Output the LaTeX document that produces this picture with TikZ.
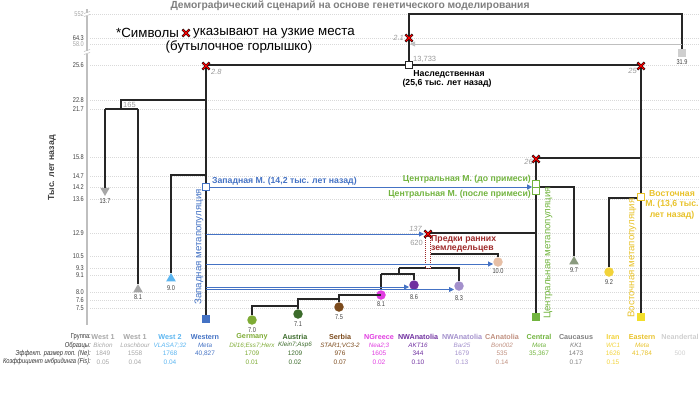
\documentclass[tikz,border=0pt]{standalone}
\usepackage{fontspec}
\setmainfont{Liberation Sans}
\newfontfamily\condfont[FakeStretch=0.8]{Liberation Sans}
\usetikzlibrary{arrows.meta,calc,shapes.geometric}
\definecolor{titlegray}{HTML}{7F7F7F}
\definecolor{gridc}{HTML}{D9D9D9}
\definecolor{axisc}{HTML}{BFBFBF}
\definecolor{tickc}{HTML}{404040}
\definecolor{ltick}{HTML}{A6A6A6}
\definecolor{numgray}{HTML}{9A9A9A}
\definecolor{westblue}{HTML}{4472C4}
\definecolor{west2blue}{HTML}{5BB5F0}
\definecolor{westgray}{HTML}{A6A6A6}
\definecolor{germanyc}{HTML}{7EAB35}
\definecolor{austriac}{HTML}{3C6B2B}
\definecolor{serbiac}{HTML}{7B4A1C}
\definecolor{ngreecec}{HTML}{E03CE0}
\definecolor{nwanac}{HTML}{7030A0}
\definecolor{nwanbc}{HTML}{A390CC}
\definecolor{canac}{HTML}{E6BFA6}
\definecolor{canatext}{HTML}{C09080}
\definecolor{centralc}{HTML}{72B43F}
\definecolor{caucc}{HTML}{8A9A7E}
\definecolor{cauctext}{HTML}{7F7F7F}
\definecolor{iranc}{HTML}{F2D33A}
\definecolor{eastc}{HTML}{F2DE2A}
\definecolor{easttext}{HTML}{E8C22A}
\definecolor{neandc}{HTML}{CFCFCF}
\definecolor{farmerc}{HTML}{9E2A2A}
\definecolor{treec}{HTML}{262626}
\begin{document}
\begin{tikzpicture}[x=1pt,y=-1pt,
  tree/.style={draw=treec, line width=1.1pt},
  gridl/.style={draw=gridc, line width=0.5pt, dash pattern=on 1pt off 1pt},
  flow/.style={draw=westblue, line width=0.9pt, -{Triangle[length=5pt,width=5pt]}},
  tickl/.style={anchor=east, inner sep=0pt, font=\condfont\fontsize{7}{8}\selectfont},
  vall/.style={inner sep=0pt, font=\condfont\fontsize{7}{8}\selectfont, text=tickc},
  sizel/.style={inner sep=0pt, font=\itshape\fontsize{7.5}{8.5}\selectfont, text=numgray},
  mcirc/.style={circle, minimum size=9.5pt, inner sep=0pt},
  mtri/.style={regular polygon, regular polygon sides=3, minimum size=11pt, inner sep=0pt},
  msq/.style={rectangle, minimum size=8pt, inner sep=0pt},
  osq/.style={rectangle, minimum size=7pt, inner sep=0pt, draw, fill=white, line width=0.7pt},
  lab/.style={inner sep=0pt, font=\bfseries\fontsize{8.7}{9.8}\selectfont},
  rotl/.style={inner sep=0pt, rotate=90, font=\fontsize{9.7}{11}\selectfont},
  grp/.style={inner sep=0pt, font=\bfseries\fontsize{7.2}{8}\selectfont},
  smp/.style={inner sep=0pt, font=\itshape\fontsize{6.3}{7.5}\selectfont},
  tv/.style={inner sep=0pt, font=\fontsize{6.5}{7.5}\selectfont},
  rowl/.style={anchor=east, inner sep=0pt, font=\condfont\itshape\fontsize{7.2}{8}\selectfont, text=black!80},
  bneck/.pic={\draw[black, line width=2.3pt] (-3.6,-3.6)--(3.6,3.6) (-3.6,3.6)--(3.6,-3.6);
              \draw[red, line width=1.3pt] (-3.2,-3.2)--(3.2,3.2) (-3.2,3.2)--(3.2,-3.2);}
]
\useasboundingbox (0,0) rectangle (700,394);
% title
\node[inner sep=0pt, font=\bfseries\fontsize{10.3}{11}\selectfont, text=titlegray] (title) at (350,6) {Демографический сценарий на основе генетического моделирования};
% grid and ticks
\foreach \v/\yy/\cc in {552/14/ltick, 64.3/38/tickc, 58.0/44/ltick, 25.6/65/tickc, 22.8/100/tickc, 21.7/109/tickc, 15.8/157/tickc, 14.7/176/tickc, 14.2/187/tickc, 13.6/199/tickc, 12.9/233/tickc, 10.5/256/tickc, 9.3/268/tickc, 9.1/275/tickc, 8.0/292/tickc, 7.6/300/tickc, 7.5/308/tickc}{
  \coordinate (gl\yy) at (90,\yy);
  \coordinate (gr\yy) at (700,\yy);
  \draw[gridl] (gl\yy) -- (gr\yy);
  \node[tickl, text=\cc] (t\yy) at (84,\yy) {\v};
}
% axis
\coordinate (axt) at (87,9);
\coordinate (axb) at (87,325);
\draw[axisc, line width=1.6pt] (axt) -- (axb);
\foreach \yy in {14,52}{
  \coordinate (bk\yy) at (87,\yy);
  \fill[white] ($(bk\yy)+(-3,-1.5)$) rectangle ($(bk\yy)+(3,1.5)$);
  \draw[axisc, line width=0.6pt] ($(bk\yy)+(-3,-0.5)$) -- ($(bk\yy)+(3,-2.5)$)
                                 ($(bk\yy)+(-3,2.5)$) -- ($(bk\yy)+(3,0.5)$);
}
\node[rotate=90, inner sep=0pt, font=\bfseries\fontsize{8.8}{10}\selectfont, text=tickc] (ytitle) at (52,168) {Тыс. лет назад};
% annotation
\node[anchor=west, inner sep=0pt, font=\fontsize{13.3}{15}\selectfont] (ann1) at (116,33) {*Символы};
\pic at (186,33) {bneck};
\node[anchor=west, inner sep=0pt, font=\fontsize{13.3}{15}\selectfont] (ann2) at (193,33) {указывают на узкие места};
\node[inner sep=0pt, font=\fontsize{13.3}{15}\selectfont] (ann3) at (239,47) {(бутылочное горлышко)};
% markers
\node[mtri, shape border rotate=180, fill=westgray] (m137) at (105,190.5) {};
\node[mtri, fill=westgray] (m81w) at (138,289.5) {};
\node[mtri, fill=west2blue] (m90) at (171,278.5) {};
\node[msq, fill=westblue] (mwest) at (206,319) {};
\node[mcirc, fill=germanyc] (mger) at (252,320) {};
\node[mcirc, fill=austriac] (maus) at (298,314) {};
\node[mcirc, fill=serbiac] (mser) at (339,307) {};
\node[mcirc, fill=ngreecec] (mngr) at (381,295) {};
\node[mcirc, fill=nwanac] (mnwa) at (414,285) {};
\node[mcirc, fill=nwanbc] (mnwb) at (459,286) {};
\node[mcirc, fill=canac] (mcan) at (498,262) {};
\node[msq, fill=centralc] (mcen) at (536,317) {};
\node[mtri, fill=caucc] (mcau) at (574,261.5) {};
\node[mcirc, fill=iranc] (mira) at (609,272) {};
\node[msq, fill=eastc] (meas) at (641,317) {};
\node[msq, fill=neandc] (mnea) at (682,53) {};
% tree coordinates
\coordinate (tl) at (409,14);
\coordinate (tr) at (682,14);
\coordinate (xtop) at (409,38);
\coordinate (wx) at (206,65);
\coordinate (ex) at (641,65);
\coordinate (w100) at (206,100);
\coordinate (b121a) at (121,100);
\coordinate (b121b) at (121,109);
\coordinate (b105) at (105,109);
\coordinate (b138) at (138,109);
\coordinate (w175) at (206,175);
\coordinate (b171) at (171,175);
\coordinate (e198) at (641,198);
\coordinate (b609) at (609,198);
\coordinate (e158) at (641,158);
\coordinate (cx) at (536,158);
\coordinate (c187) at (536,187);
\coordinate (b574) at (574,187);
\coordinate (c233) at (536,233);
\coordinate (fx) at (428,233);
\coordinate (f254) at (428,254);
\coordinate (b498) at (498,254);
\coordinate (f268) at (428,268);
\coordinate (b399) at (399,268);
\coordinate (b459) at (459,268);
\coordinate (b399b) at (399,274);
\coordinate (b381) at (381,274);
\coordinate (b414) at (414,274);
\coordinate (n295) at (381,295);
\coordinate (b339) at (339,295);
\coordinate (s299) at (339,299);
\coordinate (b298) at (298,299);
\coordinate (a306) at (298,306);
\coordinate (b252) at (252,306);
% tree lines
\draw[tree] (xtop) -- (tl) -- (tr) -- (mnea);
\draw[tree] (xtop) -- (409,65);
\draw[tree] (wx) -- (ex);
\draw[tree] (wx) -- (mwest);
\draw[tree] (ex) -- (meas);
\draw[tree] (w100) -- (b121a) -- (b121b);
\draw[tree] (b105) -- (b138);
\draw[tree] (b105) -- (m137);
\draw[tree] (b138) -- (m81w);
\draw[tree] (w175) -- (b171) -- (m90);
\draw[tree] (e198) -- (b609) -- (mira);
\draw[tree] (e158) -- (cx) -- (mcen);
\draw[tree] (c187) -- (b574) -- (mcau);
\draw[tree] (c233) -- (fx);
\draw[tree] (f254) -- (b498) -- (mcan);
\draw[tree] (b399) -- (b459) -- (mnwb);
\draw[tree] (b399) -- (b399b);
\draw[tree] (b381) -- (b414) -- (mnwa);
\draw[tree] (b381) -- (mngr);
\draw[tree] (n295) -- (b339) -- (mser);
\draw[tree] (s299) -- (b298) -- (maus);
\draw[tree] (a306) -- (b252) -- (mger);
% farmer bar
\draw[tree] (fx) -- (f268);
\node[draw=farmerc, fill=white, dash pattern=on 1.2pt off 0.8pt, line width=0.8pt, minimum width=5pt, minimum height=32pt, inner sep=0pt] (fbar) at (428,252) {};
% neanderthal flow
\coordinate (nf1) at (682,44);
\coordinate (nf2) at (410,44);
\draw[draw=neandc!80!gray, line width=0.9pt, -{Triangle[length=5pt,width=5pt]}] (nf1) -- (nf2);
% metapopulation squares
\node[osq, draw=treec] (anc) at (409,65) {};
\node[osq, draw=westblue] (wm) at (206,187) {};
\node[osq, draw=centralc, minimum height=7pt] (cmA) at (536,183.5) {};
\node[osq, draw=centralc, minimum height=7pt] (cmB) at (536,190.5) {};
\node[osq, draw=easttext] (em) at (641,197) {};
% blue flows
\coordinate (f1s) at (206,234);
\coordinate (f1e) at (424,234);
\coordinate (f2s) at (206,264);
\coordinate (f3s) at (206,287);
\coordinate (f3e) at (409,287);
\coordinate (f4s) at (206,289.5);
\coordinate (f4e) at (454,289.5);
\draw[flow] (wm.east) -- (wm.east -| cmA.west);
\draw[flow] (f1s) -- (f1e);
\draw[flow] (f2s) -- (f2s -| mcan.west);
\draw[flow] (f3s) -- (f3e);
\draw[flow] (f4s) -- (f4e);
% bottleneck marks
\pic at (409,38) {bneck};
\pic at (206,66) {bneck};
\pic at (641,66) {bneck};
\pic at (536,159) {bneck};
\pic at (428,234) {bneck};
% size labels
\node[sizel, anchor=east] (l21) at (404,38) {2.1};
\node[sizel, anchor=west] (l28) at (211,72) {2.8};
\node[sizel, anchor=east] (l25) at (637,71) {25};
\node[sizel, anchor=east] (l26) at (533,162) {26};
\node[sizel, anchor=east] (l137) at (422,229) {137};
\node[sizel, anchor=east, font=\fontsize{7.5}{8.5}\selectfont] (l620) at (423,243) {620};
\node[sizel, anchor=west, font=\fontsize{7.5}{8.5}\selectfont] (l13733) at (413,59) {13,733};
\node[sizel, anchor=west, font=\fontsize{7.5}{8.5}\selectfont] (l165) at (123,105) {165};
% marker values
\node[vall] (v137) at (105,201) {13.7};
\node[vall] (v81w) at (138,297) {8.1};
\node[vall] (v90) at (171,288) {9.0};
\node[vall] (v70) at (252,330) {7.0};
\node[vall] (v71) at (298,324) {7.1};
\node[vall] (v75) at (339,317) {7.5};
\node[vall] (v81) at (381,304) {8.1};
\node[vall] (v86) at (414,297) {8.6};
\node[vall] (v83) at (459,298) {8.3};
\node[vall] (v100) at (498,271) {10.0};
\node[vall] (v97) at (574,270) {9.7};
\node[vall] (v92) at (609,282) {9.2};
\node[vall] (v319) at (682,62) {31.9};
% main labels
\node[lab, text=black] (her1) at (449,74) {Наследственная};
\node[lab, text=black] (her2) at (447,83.5) {(25,6 тыс. лет назад)};
\node[lab, text=westblue, anchor=west] (wml) at (212,181) {Западная М. (14,2 тыс. лет назад)};
\node[lab, text=centralc, anchor=east] (cml1) at (531,179) {Центральная М. (до примеси)};
\node[lab, text=centralc, anchor=east] (cml2) at (531,194) {Центральная М. (после примеси)};
\node[lab, text=easttext, align=center, font=\bfseries\fontsize{8.7}{10.5}\selectfont] (eml) at (672,204.5) {Восточная\\М. (13,6 тыс.\\лет назад)};
\node[lab, text=farmerc, align=left, anchor=west, font=\bfseries\fontsize{8.7}{9}\selectfont] (fl) at (431,243.5) {Предки ранних\\земледельцев};
\node[rotl, text=westblue] (wmeta) at (199,247) {Западная метапопуляция};
\node[rotl, text=centralc] (cmeta) at (548,253) {Центральная метапопуляция};
\node[rotl, text=easttext] (emeta) at (632,258) {Восточная метапопуляция};
% table
\node[rowl, font=\condfont\fontsize{7.2}{8}\selectfont] (r1) at (91,337) {Группа:};
\node[rowl] (r2) at (91,345.3) {Образцы:};
\node[rowl] (r3) at (91,353.7) {Эффект. размер поп. (Ne):};
\node[rowl] (r4) at (91,362) {Коэффициент инбридинга (Fis):};
\foreach \cx/\g/\s/\ne/\fis/\c in {
  103/West 1/Bichon/1849/0.05/westgray,
  135/West 1/Loschbour/1558/0.04/westgray,
  170/West 2/VLASA7;32/1768/0.04/west2blue,
  205/Western/Meta/{40,827}//westblue,
  252/Germany/Dil16;Ess7;Herx/1709/0.01/germanyc,
  295/Austria/Klein7;Asp6/1209/0.02/austriac,
  340/Serbia/STAR1;VC3-2/976/0.07/serbiac,
  379/NGreece/Nea2;3/1605/0.02/ngreecec,
  418/NWAnatolia/AKT16/344/0.10/nwanac,
  462/NWAnatolia/Bar25/1679/0.13/nwanbc,
  502/CAnatolia/Bon002/535/0.14/canatext,
  539/Central/Meta/{35,367}//centralc,
  576/Caucasus/KK1/1473/0.17/cauctext,
  613/Iran/WC1/1626/0.15/iranc,
  642/Eastern/Meta/{41,784}//easttext,
  680/Neandertal//500//neandc}{
  \node[grp, text=\c] (g\cx) at (\cx,337) {\g};
  \node[smp, text=\c] (s\cx) at (\cx,345.3) {\s};
  \node[tv, text=\c] (n\cx) at (\cx,353.7) {\ne};
  \node[tv, text=\c] (f\cx) at (\cx,362) {\fis};
}
\end{tikzpicture}
\end{document}
